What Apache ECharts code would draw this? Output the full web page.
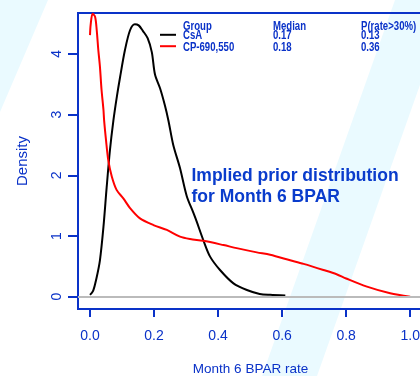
<!DOCTYPE html>
<html>
<head>
<meta charset="utf-8">
<script src="https://cdn.jsdelivr.net/npm/echarts@6/dist/echarts.min.js"></script>
<style>
  html, body { margin: 0; padding: 0; background: #fff; }
  #chart { width: 420px; height: 376px; }
</style>
</head>
<body>
<div id="chart"></div>
<script>
// CsA density curve (rate, density)
const csaRate = [0, 0.01, 0.02, 0.031, 0.042, 0.052, 0.062, 0.073, 0.084, 0.094, 0.109, 0.125, 0.14, 0.152, 0.165, 0.18, 0.193, 0.203, 0.219, 0.234, 0.245, 0.26, 0.281, 0.302, 0.323, 0.333, 0.354, 0.375, 0.406, 0.448, 0.49, 0.53, 0.5625, 0.61];
const csaDens = [0.03, 0.1, 0.3, 0.6, 1.15, 1.8, 2.4, 2.9, 3.3, 3.62, 4.06, 4.39, 4.49, 4.47, 4.38, 4.26, 4.03, 3.66, 3.43, 3.15, 2.9, 2.5, 2.12, 1.66, 1.38, 1.24, 0.93, 0.66, 0.44, 0.22, 0.11, 0.045, 0.03, 0.02];

// CP-690,550 density curve
const cpRate = [0, 0.002, 0.008, 0.016, 0.021, 0.026, 0.031, 0.036, 0.042, 0.044, 0.05, 0.057, 0.068, 0.083, 0.104, 0.125, 0.156, 0.198, 0.24, 0.281, 0.3125, 0.354, 0.417, 0.458, 0.521, 0.5625, 0.625, 0.667, 0.729, 0.77, 0.80, 0.8625, 0.9375, 1.0];
const cpDens = [4.31, 4.48, 4.66, 4.61, 4.39, 4.06, 3.79, 3.41, 3.08, 2.91, 2.58, 2.25, 1.98, 1.76, 1.62, 1.46, 1.29, 1.18, 1.10, 0.99, 0.95, 0.92, 0.85, 0.80, 0.73, 0.69, 0.60, 0.54, 0.44, 0.37, 0.30, 0.17, 0.056, 0.0];

const xTicks = [0, 0.2, 0.4, 0.6, 0.8, 1.0];
const yTicks = [0, 1, 2, 3, 4];

const legendHead = ['Group', 'Median', 'P(rate>30%)'];
const legendRows = [
  ['CsA', '0.17', '0.13'],
  ['CP-690,550', '0.18', '0.36']
];
const legendColors = ['#000000', '#ff0000'];

const blue = '#0a32c8';
const fontTick = 'Liberation Sans, Arial, sans-serif';

const chart = echarts.init(document.getElementById('chart'));

const pairs = (xs, ys) => xs.map((x, i) => [x, ys[i]]);

// legend table: narrow bold text, squeezed horizontally like the original
const legendGraphics = [];
const colX = [183, 273, 361];
const rowY = [26.7, 35.8, 47.2];
const legText = (t, x, y) => ({
  type: 'text', z: 100, x: x, y: y, scaleX: 0.8,
  style: { text: t, fill: blue, font: 'bold 12px ' + fontTick, verticalAlign: 'middle' }
});
legendHead.forEach((t, j) => legendGraphics.push(legText(t, colX[j], rowY[0])));
legendRows.forEach((row, i) => {
  row.forEach((t, j) => legendGraphics.push(legText(t, colX[j], rowY[i + 1])));
  legendGraphics.push({ type: 'line', z: 100,
    shape: { x1: 160, y1: rowY[i + 1] - 1, x2: 176, y2: rowY[i + 1] - 1 },
    style: { stroke: legendColors[i], lineWidth: 2 } });
});

const option = {
  animation: false,
  backgroundColor: '#ffffff',
  grid: {
    left: 78, top: 13, width: 345, height: 296,
    containLabel: false, outerBoundsMode: 'none',
    show: true, borderColor: blue, borderWidth: 2, backgroundColor: 'transparent'
  },
  xAxis: {
    type: 'value', min: -0.0375, max: 1.04,
    name: 'Month 6 BPAR rate', nameLocation: 'middle', nameGap: 53,
    nameTextStyle: { color: blue, fontSize: 13.5, fontFamily: fontTick },
    splitLine: { show: false },
    axisLine: { show: true, onZero: false, lineStyle: { color: blue, width: 2 } },
    axisTick: { show: true, inside: false, length: 8, customValues: xTicks, lineStyle: { color: blue, width: 2 } },
    axisLabel: { customValues: xTicks, color: blue, fontSize: 14, fontFamily: fontTick, margin: 20,
      formatter: v => v.toFixed(1) }
  },
  yAxis: {
    type: 'value', min: -0.203, max: 4.674,
    name: 'Density', nameLocation: 'middle', nameGap: 48, nameRotate: 90,
    nameTextStyle: { color: blue, fontSize: 15, fontFamily: fontTick },
    splitLine: { show: false },
    axisLine: { show: true, onZero: false, lineStyle: { color: blue, width: 2 } },
    axisTick: { show: true, inside: false, length: 10, customValues: yTicks, lineStyle: { color: blue, width: 2 } },
    axisLabel: { customValues: yTicks, color: blue, fontSize: 14, fontFamily: fontTick, margin: 14, rotate: 90 }
  },
  graphic: [
    { type: 'polygon', z: -10, shape: { points: [[395, 0], [450, 0], [317, 376], [262, 376]] },
      style: { fill: '#eafaff' } },
    { type: 'polygon', z: -10, shape: { points: [[-10, 0], [48, 0], [0, 112], [-10, 135]] },
      style: { fill: '#eafaff' } },
    { type: 'text', z: 100, x: 191.5, y: 176,
      style: { text: 'Implied prior distribution', fill: '#0a3ccc', font: 'bold 17.5px ' + fontTick, verticalAlign: 'middle' } },
    { type: 'text', z: 100, x: 191.5, y: 196.7,
      style: { text: 'for Month 6 BPAR', fill: '#0a3ccc', font: 'bold 17.5px ' + fontTick, verticalAlign: 'middle' } },
    ...legendGraphics
  ],
  series: [
    {
      type: 'line', data: [], silent: true,
      markLine: { silent: true, symbol: 'none', label: { show: false },
        lineStyle: { color: '#bbbbbb', width: 2, type: 'solid' }, data: [{ yAxis: 0 }] }
    },
    {
      name: 'CsA', type: 'line', data: pairs(csaRate, csaDens), showSymbol: false, smooth: 0.3,
      lineStyle: { color: '#000000', width: 2 }, z: 3
    },
    {
      name: 'CP-690,550', type: 'line', data: pairs(cpRate, cpDens), showSymbol: false, smooth: 0.3,
      lineStyle: { color: '#ff0000', width: 2 }, z: 4
    }
  ]
};

chart.setOption(option);
</script>
</body>
</html>
